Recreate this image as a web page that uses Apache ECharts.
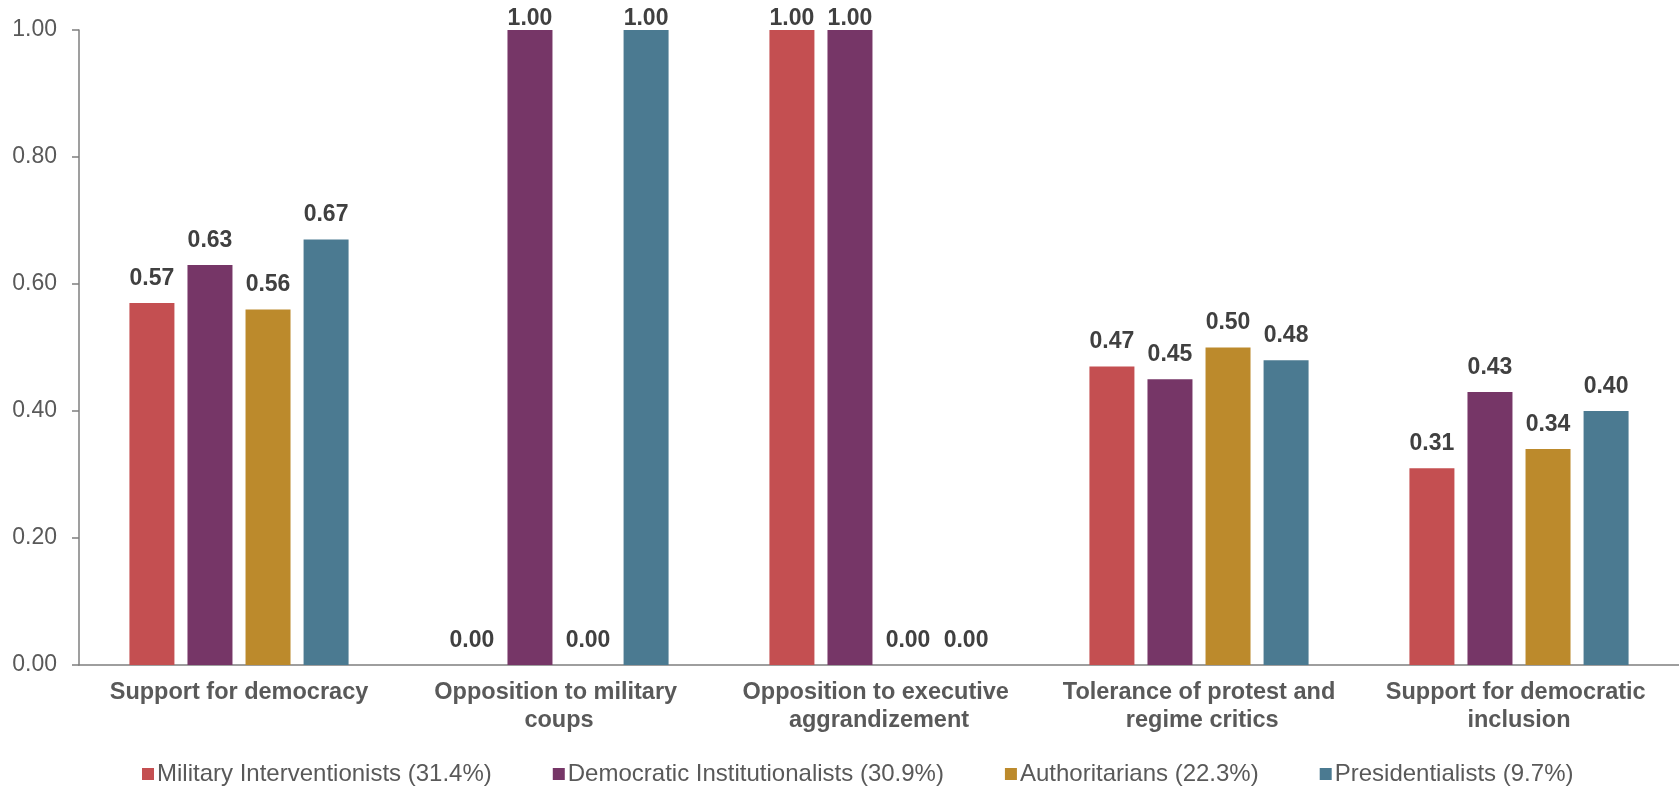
<!DOCTYPE html>
<html>
<head>
<meta charset="utf-8">
<style>
  html, body { margin: 0; padding: 0; background: #fff; }
  #chart { width: 1679px; height: 786px; }
</style>
<script src="https://cdn.jsdelivr.net/npm/echarts@6/dist/echarts.min.js"></script>
</head>
<body>
<div id="chart"></div>
<script>
const categories = [
  'Support for democracy',
  'Opposition to military coups',
  'Opposition to executive aggrandizement',
  'Tolerance of protest and regime critics',
  'Support for democratic inclusion'
];
const seriesNames = [
  'Military Interventionists (31.4%)',
  'Democratic Institutionalists (30.9%)',
  'Authoritarians (22.3%)',
  'Presidentialists (9.7%)'
];
const militaryInterventionists = [0.57, 0.00, 1.00, 0.47, 0.31];
const democraticInstitutionalists = [0.63, 1.00, 1.00, 0.45, 0.43];
const authoritarians = [0.56, 0.00, 0.00, 0.50, 0.34];
const presidentialists = [0.67, 1.00, 0.00, 0.48, 0.40];
const yTicks = [0, 0.2, 0.4, 0.6, 0.8, 1.0];

const colors = ['#C44F51', '#763667', '#BC8A2C', '#4B7A91'];
const seriesValues = [militaryInterventionists, democraticInstitutionalists, authoritarians, presidentialists];
const FONT = '"Liberation Sans", Arial, sans-serif';

// bars reaching the top of the axis keep their value label tucked just above
function toItems(values) {
  return values.map(v => v >= 1 ? { value: v, label: { distance: 0 } } : v);
}

const chart = echarts.init(document.getElementById('chart'));
chart.setOption({
  animation: false,
  textStyle: { fontFamily: FONT },
  color: colors,
  grid: { left: 79, right: 0, top: 30, bottom: 121 },
  legend: {
    data: seriesNames,
    left: 137,
    top: 757,
    itemWidth: 12,
    itemHeight: 12,
    itemGap: 61,
    icon: 'rect',
    textStyle: { fontSize: 24, color: '#595959', fontFamily: FONT, padding: [0, 0, 0, -2] }
  },
  xAxis: {
    type: 'category',
    data: categories,
    axisLine: { lineStyle: { color: '#7F7F7F', width: 1.5 } },
    axisTick: { show: false },
    axisLabel: {
      interval: 0,
      margin: 14,
      fontSize: 23.5,
      lineHeight: 28,
      fontWeight: 'bold',
      color: '#595959',
      width: 280,
      overflow: 'break',
      fontFamily: FONT
    }
  },
  yAxis: {
    type: 'value',
    min: yTicks[0],
    max: yTicks[yTicks.length - 1],
    interval: 0.2,
    splitLine: { show: false },
    axisLine: { show: true, lineStyle: { color: '#7F7F7F', width: 1.5 } },
    axisTick: { show: true, length: 7, lineStyle: { color: '#7F7F7F', width: 1.5 } },
    axisLabel: {
      margin: 22,
      fontSize: 23,
      color: '#595959',
      fontFamily: FONT,
      formatter: v => v.toFixed(2)
    }
  },
  series: seriesNames.map((name, i) => ({
    name,
    type: 'bar',
    data: toItems(seriesValues[i]),
    barWidth: 45,
    barGap: '29%',
    itemStyle: { color: colors[i] },
    label: {
      show: true,
      position: 'top',
      distance: 13,
      fontSize: 23,
      fontWeight: 'bold',
      color: '#404040',
      fontFamily: FONT,
      formatter: p => p.value.toFixed(2)
    }
  }))
});
</script>
</body>
</html>
